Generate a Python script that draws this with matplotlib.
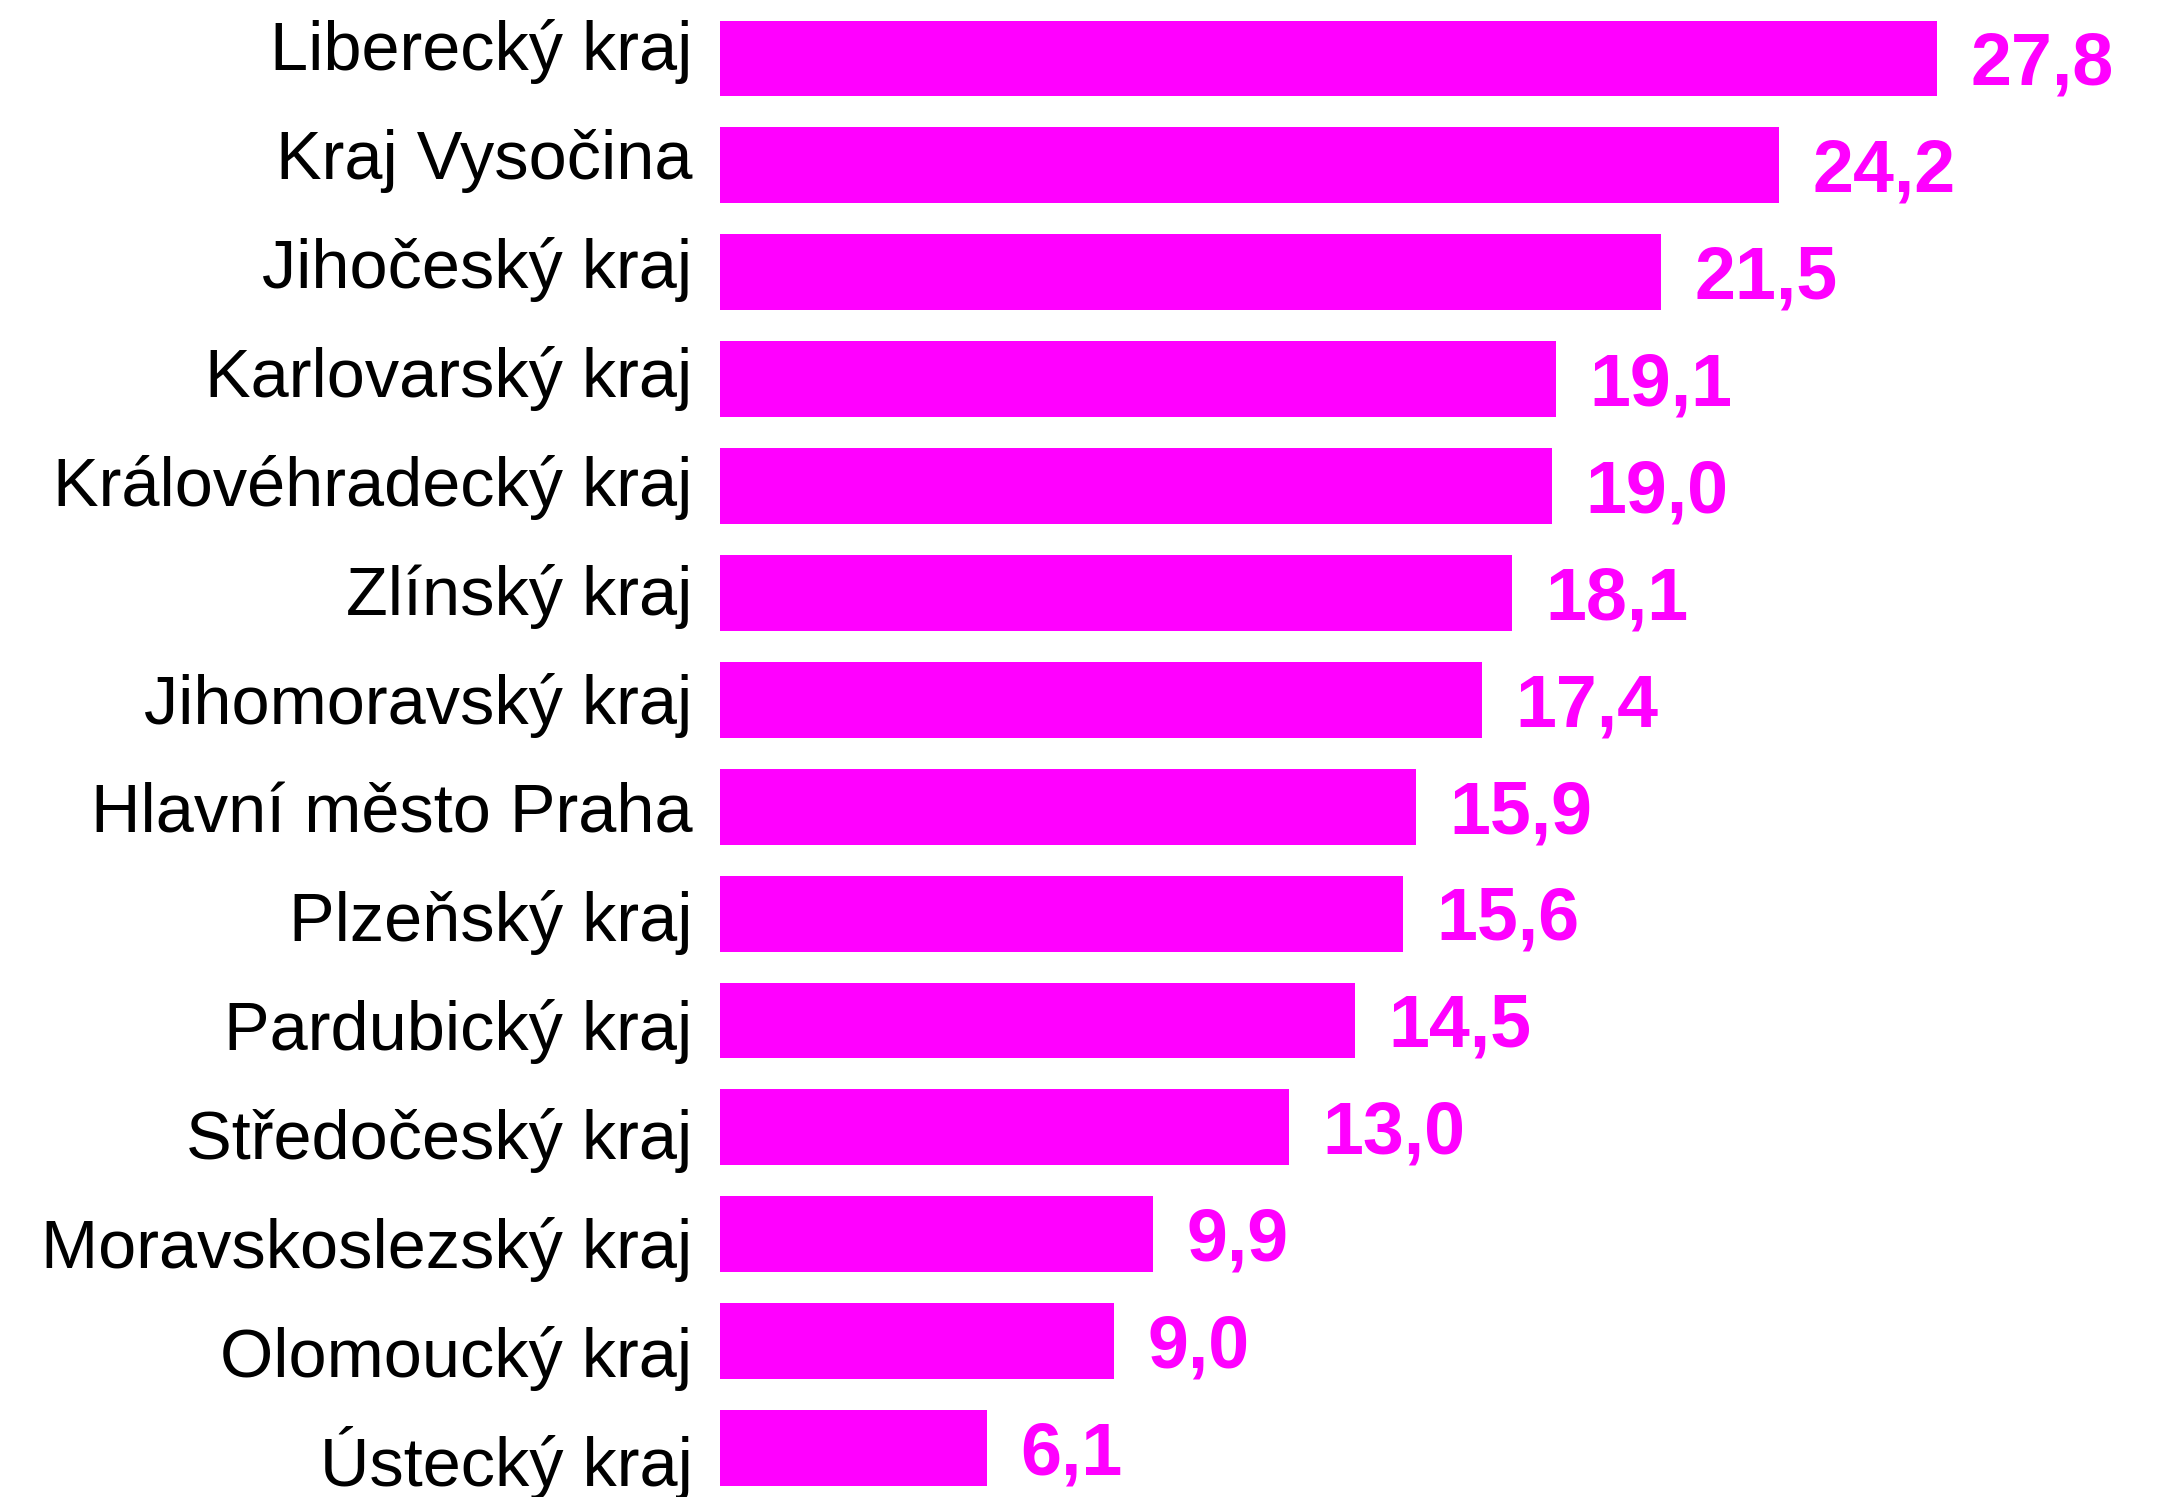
import matplotlib.pyplot as plt
from matplotlib.transforms import ScaledTranslation

# kraje a hodnoty
kraje = ['Liberecký kraj', 'Kraj Vysočina', 'Jihočeský kraj', 'Karlovarský kraj',
         'Královéhradecký kraj', 'Zlínský kraj', 'Jihomoravský kraj',
         'Hlavní město Praha', 'Plzeňský kraj', 'Pardubický kraj',
         'Středočeský kraj', 'Moravskoslezský kraj', 'Olomoucký kraj', 'Ústecký kraj']
hodnoty = [27.8, 24.2, 21.5, 19.1, 19.0, 18.1, 17.4, 15.9, 15.6, 14.5, 13.0, 9.9, 9.0, 6.1]
popisky = [f'{v:.1f}'.replace('.', ',') for v in hodnoty]

barva = '#FF00FF'

plt.rcParams['font.family'] = ['Liberation Sans', 'DejaVu Sans']

fig = plt.figure(figsize=(21.57, 14.97), dpi=100)
ax = fig.add_axes([0.3336, 0, 0.6664, 1])

pozice = list(range(len(kraje)))
ax.barh(pozice, hodnoty, height=0.71, color=barva)

# popisky hodnot - cislice vycentrovane na sloupec
for y, v, t in zip(pozice, hodnoty, popisky):
    ax.annotate(t, xy=(v, y), xytext=(24, -19), textcoords='offset points',
                va='baseline', ha='left', fontsize=53, fontweight='bold', color=barva)

ax.set_yticks(pozice)
ax.set_yticklabels(kraje, fontsize=49.3)
ax.tick_params(axis='y', length=0, pad=19.5)

# nazvy kraju maji v originale o kousek vetsi rozestup nez sloupce
for i, tick in enumerate(ax.yaxis.get_major_ticks()):
    posun = 24.5 - 12.8 + 2.0 * i   # px dolu
    tick.label1.set_va('baseline')
    tick.label1.set_transform(tick.label1.get_transform() +
                              ScaledTranslation(0, -posun / 100, fig.dpi_scale_trans))

ax.set_xlim(0, 32.82)
ax.set_ylim(13.458, -0.547)
ax.set_xticks([])
for s in ax.spines.values():
    s.set_visible(False)

fig.savefig('out.png', dpi=100)
plt.close()
